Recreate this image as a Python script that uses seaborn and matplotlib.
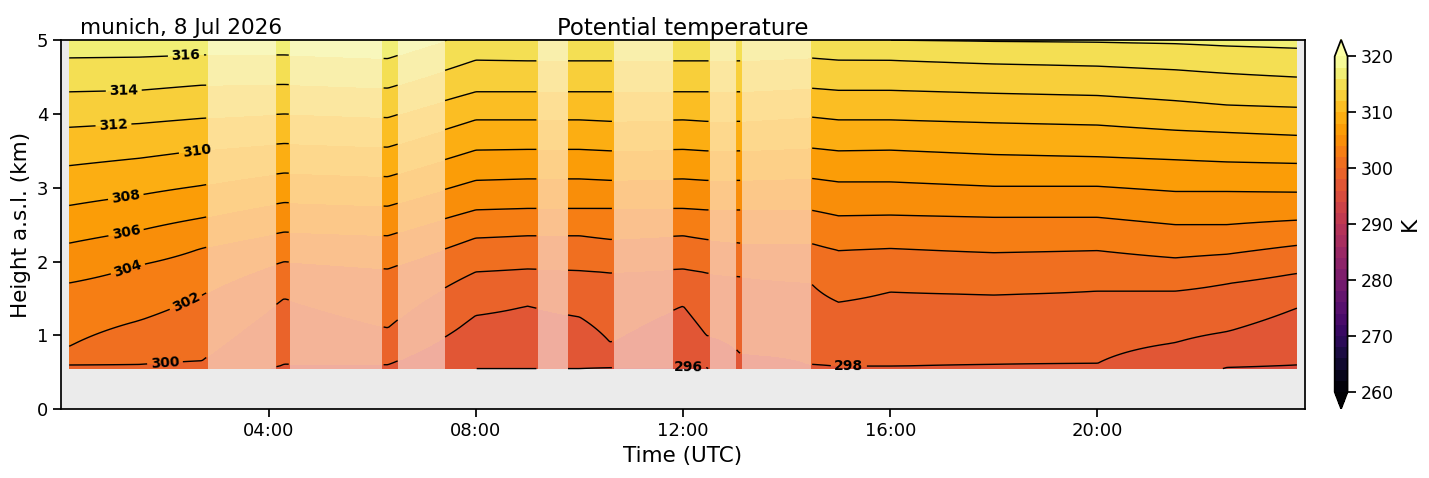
import matplotlib
matplotlib.use("Agg")
import matplotlib.pyplot as plt
import numpy as np
import seaborn as sns

# theta levels (K) and the height (km) at which each level sits, per time node (h UTC)
theta_levels = np.arange(294, 320, 2)
time_nodes = [0.15, 1.5, 2.7, 4.3, 6.3, 8.0, 9.0, 10.0, 10.6, 12.0, 12.45, 13.1,
              14.45, 15.0, 16.0, 18.0, 20.0, 21.5, 22.5, 23.85]
level_heights = [
    [-0.3, 0.0, 0.3, 0.6, 0.85, 1.71, 2.25, 2.76, 3.3, 3.82, 4.3, 4.76, 5.2],
    [-0.3, 0.0, 0.3, 0.6, 1.2, 1.95, 2.42, 2.9, 3.4, 3.87, 4.32, 4.77, 5.2],
    [-0.3, 0.0, 0.3, 0.65, 1.54, 2.18, 2.59, 3.03, 3.51, 3.94, 4.39, 4.8, 5.22],
    [-0.3, 0.3, 0.6, 1.5, 2.0, 2.4, 2.8, 3.2, 3.6, 4.0, 4.4, 4.8, 5.2],
    [-0.3, 0.2, 0.6, 1.1, 1.9, 2.35, 2.75, 3.15, 3.55, 3.95, 4.35, 4.75, 5.15],
    [-0.2, 0.55, 1.27, 1.86, 2.32, 2.7, 3.1, 3.51, 3.92, 4.3, 4.73, 5.12, 5.5],
    [-0.2, 0.55, 1.4, 1.9, 2.35, 2.72, 3.12, 3.52, 3.92, 4.3, 4.72, 5.12, 5.5],
    [-0.2, 0.55, 1.25, 1.88, 2.35, 2.72, 3.12, 3.52, 3.92, 4.3, 4.72, 5.12, 5.5],
    [-0.2, 0.57, 0.9, 1.85, 2.3, 2.72, 3.1, 3.5, 3.9, 4.3, 4.72, 5.12, 5.5],
    [-0.2, 0.57, 1.4, 1.9, 2.35, 2.72, 3.12, 3.52, 3.92, 4.3, 4.72, 5.12, 5.5],
    [-0.2, 0.57, 1.0, 1.85, 2.3, 2.7, 3.1, 3.5, 3.9, 4.3, 4.72, 5.12, 5.5],
    [-0.2, 0.4, 0.75, 1.8, 2.25, 2.7, 3.1, 3.5, 3.9, 4.3, 4.72, 5.12, 5.5],
    [-0.3, 0.2, 0.6, 1.72, 2.25, 2.7, 3.13, 3.54, 3.96, 4.35, 4.76, 5.15, 5.55],
    [-0.3, 0.2, 0.58, 1.45, 2.15, 2.62, 3.08, 3.5, 3.92, 4.32, 4.73, 5.1, 5.5],
    [-0.3, 0.2, 0.58, 1.59, 2.18, 2.63, 3.08, 3.51, 3.92, 4.32, 4.73, 5.0, 5.4],
    [-0.3, 0.2, 0.6, 1.55, 2.12, 2.6, 3.02, 3.45, 3.88, 4.28, 4.68, 4.98, 5.4],
    [-0.3, 0.25, 0.62, 1.6, 2.15, 2.6, 3.02, 3.42, 3.85, 4.25, 4.65, 4.97, 5.4],
    [-0.3, 0.4, 0.9, 1.6, 2.05, 2.5, 2.95, 3.38, 3.78, 4.18, 4.6, 4.95, 5.4],
    [-0.2, 0.57, 1.05, 1.7, 2.1, 2.5, 2.95, 3.35, 3.75, 4.12, 4.55, 4.92, 5.35],
    [-0.2, 0.6, 1.37, 1.84, 2.22, 2.56, 2.94, 3.33, 3.71, 4.09, 4.5, 4.89, 5.3],
]
# periods flagged as unreliable (shaded, no isentropes)
masked_periods = [(2.82, 4.14), (4.41, 6.19), (6.5, 7.4), (9.2, 9.77),
                  (10.66, 11.8), (12.52, 13.03), (13.13, 14.47)]
label_positions = [(2.0, 0.62), (2.4, 1.45), (1.2, 2.05), (1.2, 2.55), (1.2, 3.05),
                   (2.6, 3.55), (1.0, 3.9), (1.2, 4.4), (2.4, 4.85),
                   (12.1, 0.6), (15.2, 0.6)]
tick_hours = [4, 8, 12, 16, 20]
tick_labels = ["04:00", "08:00", "12:00", "16:00", "20:00"]

sns.set_theme(style="ticks", rc={"text.color": "black", "axes.labelcolor": "black",
                                 "xtick.color": "black", "ytick.color": "black",
                                 "axes.edgecolor": "black"})
plt.rcParams["font.family"] = ["DejaVu Sans"]

z = np.linspace(0.55, 5.0, 120)
cols = [np.interp(z, h, theta_levels) for h in level_heights]
node_field = np.array(cols).T
t = np.linspace(time_nodes[0], time_nodes[-1], 700)
field = np.array([np.interp(t, time_nodes, row) for row in node_field])

mask = np.zeros_like(field, dtype=bool)
for a, b in masked_periods:
    mask[:, (t > a) & (t < b)] = True
field_masked = np.ma.array(field, mask=mask)

fig = plt.figure(figsize=(14.29, 4.78), dpi=100)
ax = fig.add_axes([0.043, 0.144, 0.87, 0.772])
cax = fig.add_axes([0.934, 0.145, 0.009, 0.772])
ax.set_facecolor("#ebebeb")

fill_levels = np.arange(260, 322, 2)
cf = ax.contourf(t, z, field, levels=fill_levels, cmap="inferno",
                 vmin=260, vmax=320, extend="both")
for a, b in masked_periods:
    ax.axvspan(a, b, ymin=0.55 / 5, ymax=1, color="white", alpha=0.52, lw=0)
cs = ax.contour(t, z, field_masked, levels=np.arange(296, 318, 2),
                colors="black", linewidths=1.0)
lbls = ax.clabel(cs, fmt="%d", fontsize=10, manual=label_positions, inline=True)
for l in lbls:
    l.set_fontweight("bold")

ax.set_xlim(0, 24)
ax.set_ylim(0, 5)
ax.set_xticks(tick_hours)
ax.set_xticklabels(tick_labels)
ax.set_yticks(range(6))
ax.tick_params(axis="both", labelsize=13)
ax.set_xlabel("Time (UTC)", fontsize=15.5)
ax.set_ylabel("Height a.s.l. (km)", fontsize=15.5)
ax.set_title("Potential temperature", fontsize=16.5, pad=4)
ax.text(0.015, 1.005, "munich, 8 Jul 2026", transform=ax.transAxes,
        fontsize=15.5, ha="left", va="bottom")

cb = fig.colorbar(cf, cax=cax, extend="both")
cb.set_ticks(range(260, 321, 10))
cb.ax.tick_params(labelsize=12.5)
cb.set_label("K", fontsize=15.5)

fig.savefig("out.png", dpi=100)
